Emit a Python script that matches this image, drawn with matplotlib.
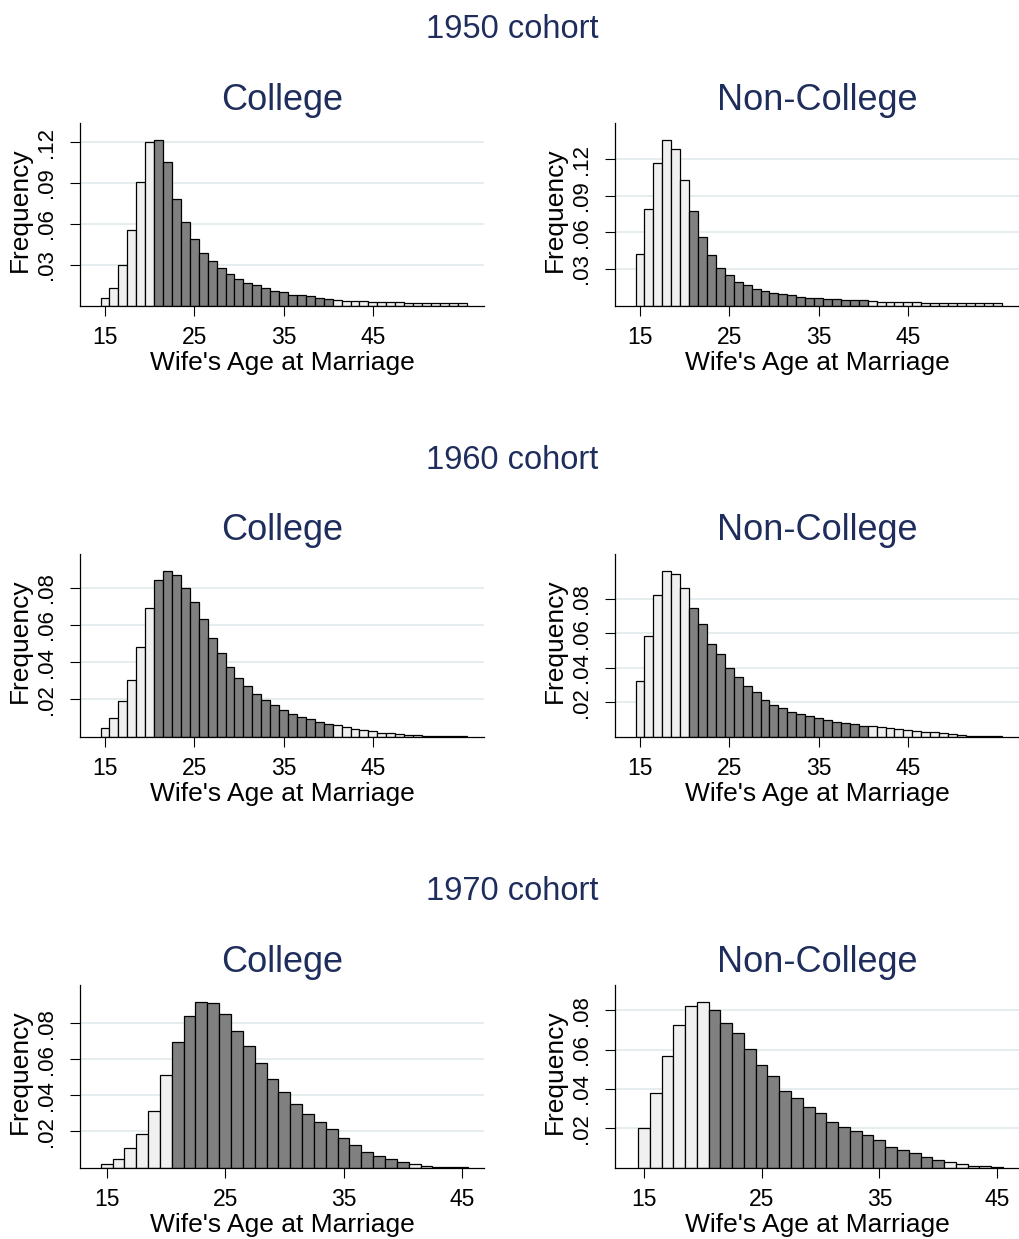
import matplotlib
matplotlib.use("Agg")
import matplotlib.pyplot as plt
import numpy as np

# ---------------- data ----------------
cohorts = ["1950 cohort", "1960 cohort", "1970 cohort"]
groups = ["College", "Non-College"]

ages_1950 = list(range(15, 56))
ages_1960 = list(range(15, 56))
ages_1970 = list(range(15, 46))

freq_1950_college = [0.0056, 0.0132, 0.0298, 0.0556, 0.0905, 0.1198, 0.1218, 0.1057, 0.0783, 0.0615,
                     0.0490, 0.0388, 0.0330, 0.0278, 0.0232, 0.0198, 0.0168, 0.0154, 0.0132, 0.0110,
                     0.0102, 0.0078, 0.0076, 0.0071, 0.0059, 0.0051, 0.0041, 0.0037, 0.0034, 0.0032,
                     0.0029, 0.0027, 0.0024, 0.0024, 0.0022, 0.0022, 0.0020, 0.0022, 0.0020, 0.0017,
                     0.0017]
freq_1950_noncollege = [0.0425, 0.0794, 0.1170, 0.1360, 0.1280, 0.1030, 0.0775, 0.0565, 0.0412, 0.0311,
                        0.0251, 0.0196, 0.0169, 0.0139, 0.0117, 0.0106, 0.0093, 0.0085, 0.0068, 0.0065,
                        0.0060, 0.0055, 0.0055, 0.0049, 0.0044, 0.0044, 0.0035, 0.0033, 0.0030, 0.0030,
                        0.0027, 0.0027, 0.0025, 0.0025, 0.0025, 0.0025, 0.0022, 0.0022, 0.0022, 0.0019,
                        0.0019]
freq_1960_college = [0.0046, 0.0102, 0.0193, 0.0305, 0.0479, 0.0691, 0.0843, 0.0891, 0.0868, 0.0797,
                     0.0722, 0.0629, 0.0529, 0.0450, 0.0373, 0.0316, 0.0271, 0.0230, 0.0196, 0.0168,
                     0.0145, 0.0120, 0.0107, 0.0096, 0.0079, 0.0068, 0.0061, 0.0052, 0.0043, 0.0036,
                     0.0029, 0.0021, 0.0020, 0.0014, 0.0011, 0.0007, 0.0005, 0.0004, 0.0002, 0.0001,
                     0.0001]
freq_1960_noncollege = [0.0321, 0.0585, 0.0821, 0.0962, 0.0942, 0.0860, 0.0748, 0.0652, 0.0538, 0.0477,
                        0.0400, 0.0344, 0.0292, 0.0256, 0.0215, 0.0183, 0.0163, 0.0142, 0.0131, 0.0117,
                        0.0106, 0.0094, 0.0083, 0.0079, 0.0071, 0.0063, 0.0060, 0.0054, 0.0050, 0.0046,
                        0.0040, 0.0035, 0.0029, 0.0025, 0.0019, 0.0013, 0.0010, 0.0006, 0.0004, 0.0002,
                        0.0001]
freq_1970_college = [0.0022, 0.0050, 0.0107, 0.0187, 0.0311, 0.0512, 0.0697, 0.0842, 0.0919, 0.0910,
                     0.0849, 0.0755, 0.0675, 0.0579, 0.0488, 0.0418, 0.0353, 0.0294, 0.0253, 0.0215,
                     0.0165, 0.0126, 0.0087, 0.0065, 0.0048, 0.0031, 0.0019, 0.0011, 0.0006, 0.0002,
                     0.0001]
freq_1970_noncollege = [0.0200, 0.0379, 0.0570, 0.0725, 0.0825, 0.0845, 0.0803, 0.0737, 0.0683, 0.0602,
                        0.0524, 0.0468, 0.0392, 0.0353, 0.0308, 0.0276, 0.0233, 0.0205, 0.0186, 0.0164,
                        0.0139, 0.0106, 0.0091, 0.0073, 0.0052, 0.0041, 0.0027, 0.0019, 0.0010, 0.0007,
                        0.0003]

x_ticks = [15, 25, 35, 45]
y_ticks_1950 = [0.03, 0.06, 0.09, 0.12]
y_ticks_1960 = [0.02, 0.04, 0.06, 0.08]
y_ticks_1970 = [0.02, 0.04, 0.06, 0.08]
y_ticklabels_1950 = [".03", ".06", ".09", ".12"]
y_ticklabels_1960 = [".02", ".04", ".06", ".08"]
y_ticklabels_1970 = [".02", ".04", ".06", ".08"]

dark_age_min, dark_age_max = 21, 40   # highlighted ages

x_label = "Wife's Age at Marriage"
y_label = "Frequency"

# ---------------- style ----------------
W, H = 1020, 1239
FONT = "Liberation Sans"
TITLE_COLOR = "#1f2d5c"
DARK = "#808080"
LIGHT = "#f0f0f0"
GRID = "#e3ecee"

plt.rcParams["font.family"] = [FONT, "DejaVu Sans"]

fig = plt.figure(figsize=(W / 100, H / 100), dpi=100)
fig.patch.set_facecolor("white")

rows = [
    (ages_1950, [freq_1950_college, freq_1950_noncollege], y_ticks_1950, y_ticklabels_1950),
    (ages_1960, [freq_1960_college, freq_1960_noncollege], y_ticks_1960, y_ticklabels_1960),
    (ages_1970, [freq_1970_college, freq_1970_noncollege], y_ticks_1970, y_ticklabels_1970),
]

row_top_px = [123, 554, 985]
axis_h_px = 182.6
col_left_px = [80, 615]
axis_w_px = 404.5
xlims = [[(12.2, 57.5), (12.2, 57.5)],
         [(12.2, 57.5), (12.2, 57.5)],
         [(12.75, 46.9), (12.55, 46.9)]]
cohort_title_y = [29.5, 460.5, 891.5]
group_title_y = [100, 531, 962]

for r, (ages, series, yt, ytl) in enumerate(rows):
    fig.text(512 / W, 1 - cohort_title_y[r] / H, cohorts[r], ha="center", va="center",
             fontsize=23.5, color=TITLE_COLOR)
    for c in range(2):
        left = col_left_px[c] / W
        bottom = 1 - (row_top_px[r] + axis_h_px) / H
        ax = fig.add_axes([left, bottom, axis_w_px / W, axis_h_px / H])
        vals = series[c]
        colors = [DARK if dark_age_min <= a <= dark_age_max else LIGHT for a in ages]
        ax.bar(ages, vals, width=1.0, color=colors, edgecolor="black", linewidth=0.9, zorder=3)
        ax.set_xlim(*xlims[r][c])
        ax.set_ylim(0, max(vals) * 1.1)
        ax.set_xticks(x_ticks)
        ax.set_xticklabels([str(t) for t in x_ticks])
        ax.set_yticks(yt)
        ax.set_yticklabels(ytl, rotation=90, va="center")
        for y in yt:
            ax.axhline(y, color=GRID, linewidth=1.3, zorder=1)
        for s in ["top", "right"]:
            ax.spines[s].set_visible(False)
        for s in ["left", "bottom"]:
            ax.spines[s].set_linewidth(0.9)
            ax.spines[s].set_zorder(4)
        ax.tick_params(axis="x", length=7.5, width=0.8, pad=7, labelsize=16.5)
        ax.tick_params(axis="y", length=7.5, width=0.8, pad=9, labelsize=16)
        ax.set_xlabel(x_label, fontsize=19, va="baseline")
        ax.xaxis.set_label_coords(0.5, -64.5 / axis_h_px)
        ax.set_ylabel(y_label, fontsize=19, va="center")
        ax.yaxis.set_label_coords(-60 / axis_w_px, 0.525)
        fig.text((col_left_px[c] + axis_w_px / 2) / W, 1 - group_title_y[r] / H, groups[c],
                 ha="center", va="center", fontsize=26, color=TITLE_COLOR)

fig.savefig("out.png", dpi=100, facecolor="white")
